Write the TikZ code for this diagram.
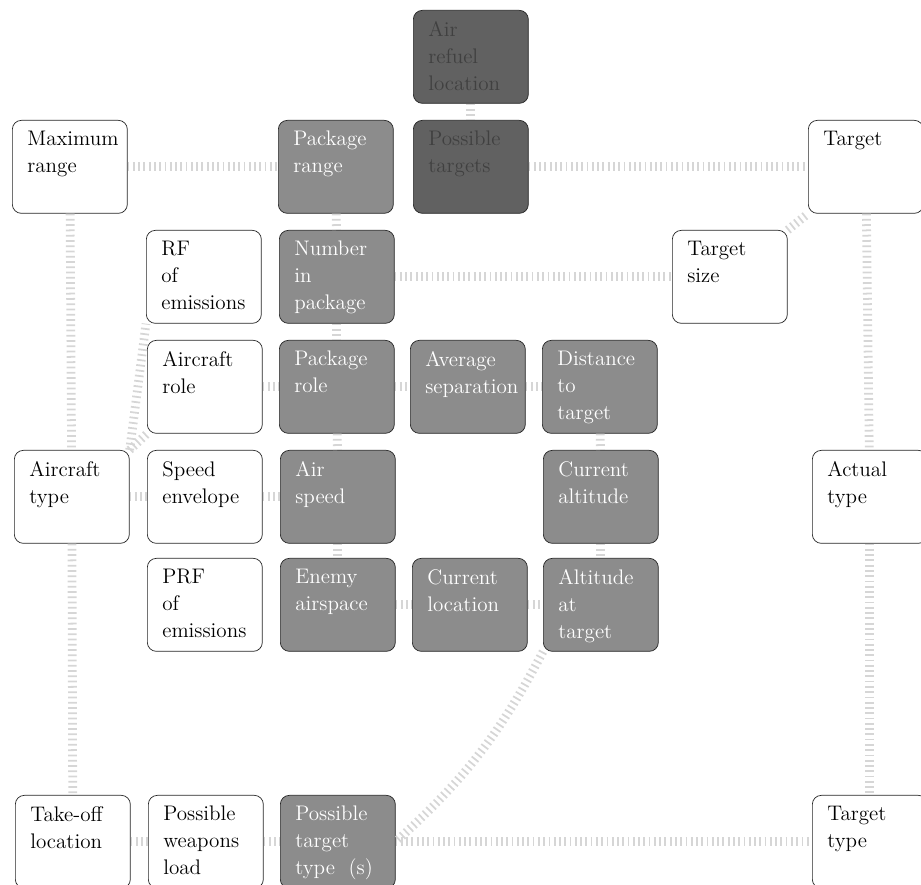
\documentclass[tikz,border=0pt]{standalone}
\newcommand{\boxtext}[1]{\parbox[c][1.42cm][t]{1.7cm}{\raggedright #1}}
\begin{document}
\begin{tikzpicture}[x=0.02cm,y=-0.02cm,
    box/.style={draw=black!85, rounded corners=0.18cm, minimum width=2.3cm, minimum height=1.86cm,
        inner xsep=0.3cm, inner ysep=0.22cm, anchor=north west, font=\fontsize{12}{15.3}\selectfont},
    light/.style={box, fill=white},
    dark/.style={box, fill=black!45, text=white},
    darker/.style={box, fill=black!62, text=black!75},
    link/.style={draw=black!16, line width=5pt, dash pattern=on 1pt off 2pt}]
    \useasboundingbox (0,0) rectangle (921,885);

    % left columns
    \node[light] (mrange) at (12,120) {\boxtext{Maximum\\range}};
    \node[light] (actype) at (14,450) {\boxtext{Aircraft\\type}};
    \node[light] (takeoff) at (15,795) {\boxtext{Take-off\\location}};
    \node[light] (rf) at (146,230) {\boxtext{RF\\of\\emissions}};
    \node[light] (acrole) at (147,340) {\boxtext{Aircraft\\role}};
    \node[light] (speed) at (147,450) {\boxtext{Speed\\envelope}};
    \node[light] (prf) at (147,558) {\boxtext{PRF\\of\\emissions}};
    \node[light] (weapons) at (148,795) {\boxtext{Possible\\weapons\\load}};

    % package
    \node[darker] (refuel) at (413,10) {\boxtext{Air\\refuel\\location}};
    \node[darker] (ptargets) at (413,120) {\boxtext{Possible\\targets}};
    \node[dark] (prange) at (278,120) {\boxtext{Package\\range}};
    \node[dark] (number) at (279,230) {\boxtext{Number\\in\\package}};
    \node[dark] (prole) at (279,340) {\boxtext{Package\\role}};
    \node[dark, inner xsep=0.2cm] (avsep) at (410,340) {\boxtext{Average\\separation}};
    \node[dark] (dist) at (542,340) {\boxtext{Distance\\to\\target}};
    \node[dark] (airspeed) at (280,450) {\boxtext{Air\\speed}};
    \node[dark] (curalt) at (543,450) {\boxtext{Current\\altitude}};
    \node[dark] (enemy) at (280,558) {\boxtext{Enemy\\airspace}};
    \node[dark] (curloc) at (412,558) {\boxtext{Current\\location}};
    \node[dark] (altarget) at (543,558) {\boxtext{Altitude\\at\\target}};
    \node[dark] (pttype) at (280,795) {\boxtext{Possible\\target\\type~~(s)}};

    % target side
    \node[light] (target) at (808,120) {\boxtext{Target}};
    \node[light] (tsize) at (672,230) {\boxtext{Target\\size}};
    \node[light] (acttype) at (812,450) {\boxtext{Actual\\type}};
    \node[light] (ttype) at (812,795) {\boxtext{Target\\type}};

    % links
    \draw[link] (mrange) -- (prange);
    \draw[link] (ptargets) -- (target);
    \draw[link] (refuel) -- (ptargets);
    \draw[link] (prange) -- (number);
    \draw[link] (number) -- (tsize);
    \draw[link] (tsize.north east) -- (target.south west);
    \draw[link] (target) -- (acttype);
    \draw[link] (acttype) -- (ttype);
    \draw[link] (mrange) -- (actype);
    \draw[link] (actype.north east) -- (rf.south west);
    \draw[link] (actype.north east) -- (acrole.south west);
    \draw[link] (actype) -- (speed);
    \draw[link] (actype) -- (takeoff);
    \draw[link] (takeoff) -- (weapons);
    \draw[link] (weapons) -- (pttype);
    \draw[link] (acrole) -- (prole);
    \draw[link] (speed) -- (airspeed);
    \draw[link] (number) -- (prole);
    \draw[link] (prole) -- (airspeed);
    \draw[link] (airspeed) -- (enemy);
    \draw[link] (prole) -- (avsep);
    \draw[link] (avsep) -- (dist);
    \draw[link] (enemy) -- (curloc);
    \draw[link] (curloc) -- (altarget);
    \draw[link] (dist) -- (curalt);
    \draw[link] (curalt) -- (altarget);
    \draw[link] (altarget.south west) to[bend left=10] (pttype.east);
    \draw[link] (pttype) -- (ttype);
\end{tikzpicture}
\end{document}
